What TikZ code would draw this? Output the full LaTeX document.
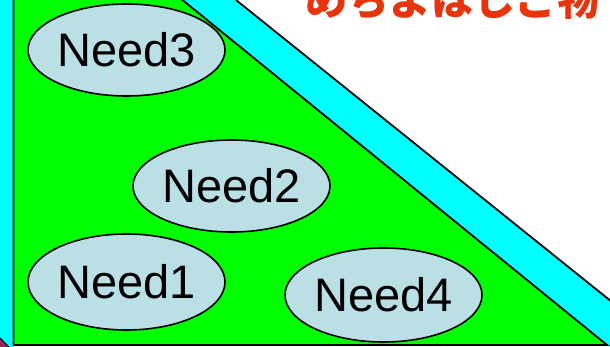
\documentclass[tikz,border=0pt]{standalone}
\usepackage{fontspec}
\setmainfont{Liberation Sans}
\newfontfamily\cjk{Noto Sans CJK JP}
\usetikzlibrary{shapes.geometric}
\definecolor{bandcyan}{RGB}{0,255,255}
\definecolor{fieldgreen}{RGB}{0,255,0}
\definecolor{needfill}{RGB}{186,223,228}
\definecolor{titlered}{RGB}{232,52,10}
\definecolor{cornerpurple}{RGB}{150,40,95}
\tikzset{
  needbox/.style={ellipse, draw=black, line width=1.6pt, fill=needfill,
    minimum width=197pt, minimum height=92pt, inner sep=0pt,
    font=\fontsize{47}{47}\selectfont},
  edgeline/.style={draw=black, line width=1.8pt}
}
\begin{document}
\begin{tikzpicture}[x=1pt,y=-1pt]
\useasboundingbox (0,0) rectangle (610,347);
\clip (0,0) rectangle (610,347);
\fill[white] (0,0) rectangle (610,347);
% left cyan strip
\fill[bandcyan] (0,0) rectangle (13.5,347);
% diagonal cyan band
\fill[bandcyan] (180,0) -- (236,0) -- (612,302) -- (612,348) -- (607,345) -- cycle;
\draw[edgeline] (236,0) -- (612,302);
% green triangle
\fill[fieldgreen] (13.5,-2) -- (180,-2) -- (607,345) -- (13.5,345) -- cycle;
\draw[edgeline] (13.5,-2) -- (13.5,345) -- (607,345) -- (180,-2);
% bottom-left corner piece
\filldraw[fill=cornerpurple, draw=black, line width=0.8pt] (-2,336) -- (10,348) -- (-2,348) -- cycle;
% title (clipped at the top, as in the reference)
\node[anchor=base west, inner sep=0pt, text=titlered,
  font=\cjk\bfseries\fontsize{42}{42}\selectfont] (title) at (305,15.5) {めちよはしご物};
% needs
\node[needbox] (need3) at (126.5,50) {Need3};
\node[needbox] (need2) at (231.5,186) {Need2};
\node[needbox, minimum height=96pt] (need1) at (126.5,282) {Need1};
\node[needbox, minimum height=94pt] (need4) at (383.5,295) {Need4};
\end{tikzpicture}
\end{document}
